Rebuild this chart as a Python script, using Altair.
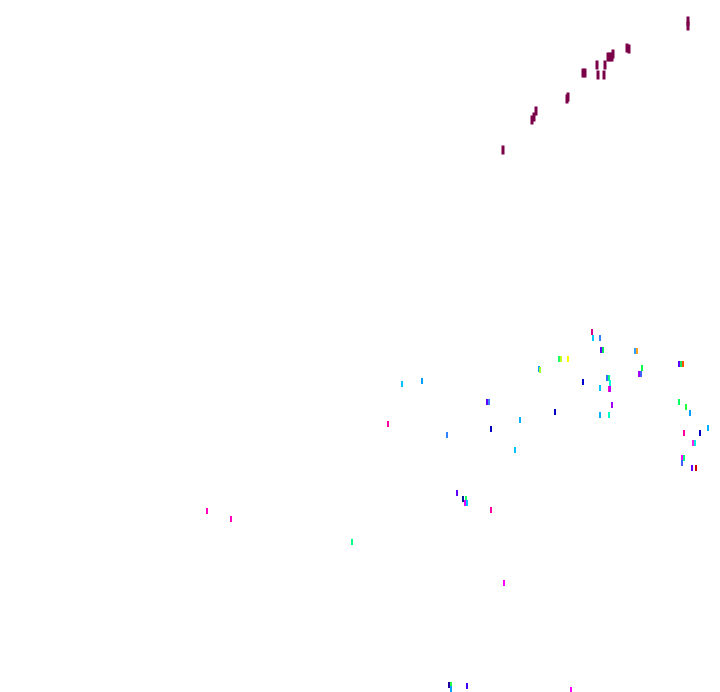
import altair as alt
import pandas as pd

# Upper (dark) series
top_x = [688, 688, 627, 629, 608, 610, 612, 613, 597, 598, 605, 604, 583, 585, 568, 567, 536, 534, 532, 503]
top_y = [21, 26, 48, 49, 57, 57, 57, 54, 65, 75, 65, 75, 73, 73, 97, 99, 111, 117, 120, 150]

# Lower (coloured) series
low_x = [592, 593, 600, 601, 603, 635, 637, 559, 561, 568, 539, 540, 642, 639, 641, 583, 607, 609, 610,
         600, 609, 610, 612, 600, 609, 679, 681, 683, 679, 686, 690, 718, 555, 708, 700, 684, 693, 695,
         682, 684, 682, 692, 696, 402, 422, 487, 489, 520, 388, 491, 447, 515, 457, 463, 466, 465, 467,
         491, 207, 231, 352, 504, 449, 451, 451, 467, 571]
low_y = [332, 338, 338, 350, 350, 351, 351, 359, 359, 359, 369, 370, 368, 374, 374, 382, 378, 378, 383,
         388, 389, 389, 405, 415, 415, 364, 364, 364, 402, 407, 413, 408, 412, 428, 433, 433, 443, 443,
         458, 458, 463, 468, 468, 384, 381, 402, 402, 420, 424, 429, 435, 450, 493, 499, 499, 503, 503,
         510, 511, 519, 542, 583, 685, 685, 689, 686, 690]
low_c = ['#d4008a', '#00c8ff', '#3080ff', '#6000ff', '#00e060', '#30a0ff', '#ffa020', '#20ff60', '#c0ff20',
         '#ffff00', '#00a0ff', '#a0ff30', '#00ff40', '#a000ff', '#4060ff', '#0000d0', '#3070ff', '#00ff80',
         '#00ffd0', '#00c0ff', '#ff00c0', '#c000ff', '#a000ff', '#00b0ff', '#00ffc0', '#6000ff', '#20e060',
         '#ff5000', '#00ff60', '#20ff40', '#00a0ff', '#00ff40', '#0000c0', '#00b0ff', '#0000c0', '#ff00a0',
         '#ff20e0', '#00f0e0', '#ff00ff', '#00ff80', '#4060ff', '#6000ff', '#d00000', '#00c0ff', '#00a0ff',
         '#6000ff', '#4080ff', '#00b0ff', '#ff00a0', '#0000c0', '#3080ff', '#00c0ff', '#6000ff', '#0020a0',
         '#20ff60', '#e000ff', '#00c0ff', '#ff00a0', '#ff00c0', '#ff00c0', '#00ff80', '#ff00ff', '#2000a0',
         '#20ff40', '#00a0ff', '#4000ff', '#ff00ff']

top_df = pd.DataFrame({"x": top_x, "y": top_y})
low_df = pd.DataFrame({"x": low_x, "y": low_y, "c": low_c})

xs = alt.Scale(domain=[8, 704])
ys = alt.Scale(domain=[684, 8])

top = alt.Chart(top_df).mark_tick(orient="vertical", thickness=3, size=9, color="#7a0048", opacity=1).encode(
    x=alt.X("x:Q", scale=xs, axis=None),
    y=alt.Y("y:Q", scale=ys, axis=None),
)

low = alt.Chart(low_df).mark_tick(orient="vertical", thickness=2, size=6, opacity=1).encode(
    x=alt.X("x:Q", scale=xs, axis=None),
    y=alt.Y("y:Q", scale=ys, axis=None),
    color=alt.Color("c:N", scale=None, legend=None),
)

chart = alt.layer(top, low).properties(
    width=696, height=676,
    padding={"left": 0, "top": 0, "right": 8, "bottom": 8},
    autosize=alt.AutoSizeParams(type="none"),
).configure_view(stroke=None)

chart.save("out.html", embed_options={"renderer": "svg", "actions": False})
